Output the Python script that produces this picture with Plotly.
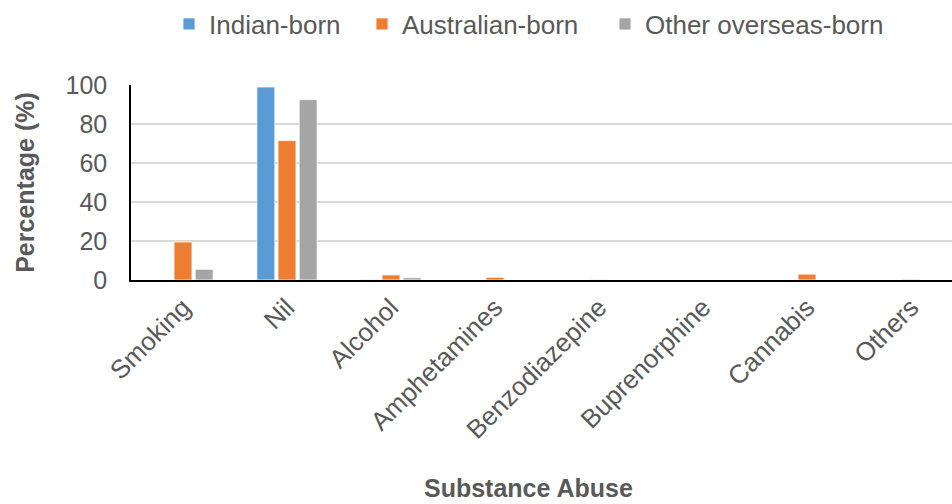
import plotly.graph_objects as go

categories = ["Smoking", "Nil", "Alcohol", "Amphetamines", "Benzodiazepine",
              "Buprenorphine", "Cannabis", "Others"]
indian_born = [0, 99, 0.3, 0, 0, 0, 0, 0]
australian_born = [19.5, 71.5, 2.6, 1.4, 0.3, 0, 3.0, 0.4]
other_overseas_born = [5.5, 92.5, 1.2, 0, 0, 0, 0, 0]
y_ticks = [0, 20, 40, 60, 80, 100]

series = [
    ("Indian-born", indian_born, "#5B9BD5"),
    ("Australian-born", australian_born, "#ED7D31"),
    ("Other overseas-born", other_overseas_born, "#A5A5A5"),
]

font_family = "Liberation Sans, Arial, sans-serif"
text_color = "#595959"

# plot area in pixels (left, right, top, bottom)
area_l, area_r, area_t, area_b = 131, 952, 85, 280

# one legend box per series so the entries can be spaced freely
legend_ids = ["legend", "legend2", "legend3"]
legend_left = [169 / 952, 362 / 952, 605 / 952]

fig = go.Figure()
for (name, values, color), lid in zip(series, legend_ids):
    fig.add_trace(go.Bar(
        name=name,
        x=categories,
        y=values,
        legend=lid,
        showlegend=True,
        marker=dict(color=color, line=dict(color="white", width=0.8)),
    ))

legend_style = dict(
    orientation="h",
    xref="container", yref="container",
    xanchor="left", yanchor="middle",
    y=1 - 24 / 504,
    font=dict(size=26, color=text_color),
    itemwidth=30,
    bgcolor="rgba(0,0,0,0)",
)

fig.update_layout(
    width=952,
    height=504,
    showlegend=True,
    barmode="group",
    bargap=0.39,
    bargroupgap=0.15,
    plot_bgcolor="white",
    paper_bgcolor="white",
    margin=dict(l=area_l, r=952 - area_r, t=area_t, b=504 - area_b),
    font=dict(family=font_family, color=text_color, size=25),
    legend=dict(legend_style, x=legend_left[0]),
    legend2=dict(legend_style, x=legend_left[1]),
    legend3=dict(legend_style, x=legend_left[2]),
    xaxis=dict(
        range=[-0.5, -0.5 + (area_r - area_l) / 104],
        tickangle=-45,
        tickfont=dict(size=26, color=text_color),
        showline=True,
        linecolor="#000000",
        linewidth=2,
        ticks="",
        showgrid=False,
    ),
    yaxis=dict(
        range=[0, 100],
        tickvals=y_ticks,
        tickfont=dict(size=25, color=text_color),
        ticklabelstandoff=17,
        showline=True,
        linecolor="#000000",
        linewidth=1.5,
        showgrid=True,
        gridcolor="#D9D9D9",
        gridwidth=1.5,
        zeroline=False,
        ticks="",
        title=dict(text="<b>Percentage (%)</b>",
                   font=dict(size=25, color=text_color), standoff=24),
    ),
    annotations=[dict(
        text="<b>Substance Abuse</b>",
        xref="paper", yref="paper",
        x=(528 - area_l) / (area_r - area_l),
        y=(area_b - 488) / (area_b - area_t),
        xanchor="center", yanchor="middle",
        showarrow=False,
        font=dict(size=25, color=text_color),
    )],
)

fig.write_html("out.html")
